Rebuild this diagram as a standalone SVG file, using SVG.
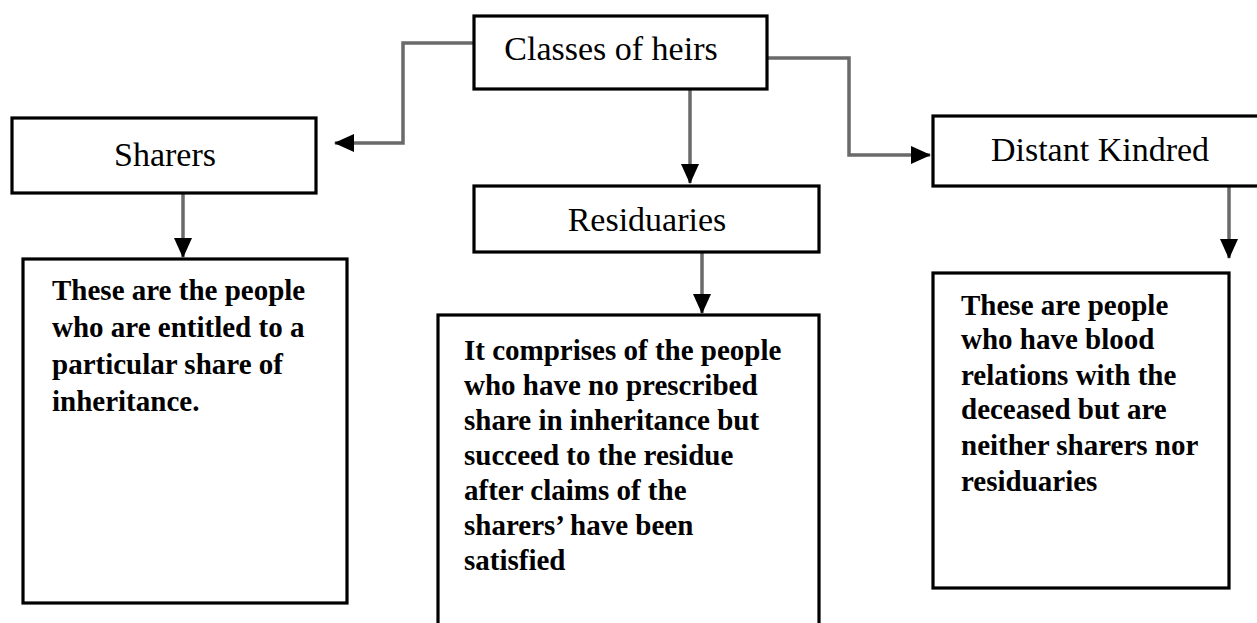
<svg xmlns="http://www.w3.org/2000/svg" width="1257" height="623" viewBox="0 0 1257 623">
<style>
.box{fill:#fff;stroke:#000;stroke-width:3.2}
.title{font-family:"Liberation Serif","Times New Roman",serif;font-size:34px;fill:#000;text-anchor:middle}
.desc{font-family:"Liberation Serif","Times New Roman",serif;font-size:29px;font-weight:bold;fill:#000}
.conn{fill:none;stroke:#6a6a6a;stroke-width:3.5}
</style>
<defs>
<marker id="ah" markerUnits="userSpaceOnUse" markerWidth="20" markerHeight="18" refX="19" refY="9" orient="auto">
<path d="M0,0 L20,9 L0,18 Z" fill="#000"/>
</marker>
</defs>
<rect x="0" y="0" width="1257" height="623" fill="#fff"/>
<g id="connectors">
<path class="conn" d="M474,43 H403 V143 H335" marker-end="url(#ah)"/>
<path class="conn" d="M690,89 V183" marker-end="url(#ah)"/>
<path class="conn" d="M767,58 H849 V155 H930" marker-end="url(#ah)"/>
<path class="conn" d="M183,193 V257" marker-end="url(#ah)"/>
<path class="conn" d="M702,252 V313" marker-end="url(#ah)"/>
<path class="conn" d="M1229,186 V258" marker-end="url(#ah)"/>
</g>
<g id="classes">
<rect class="box" x="474" y="16" width="293" height="73"/>
<text class="title" x="611" y="60">Classes of heirs</text>
</g>
<g id="sharers">
<rect class="box" x="12" y="118" width="304" height="75"/>
<text class="title" x="165" y="166">Sharers</text>
</g>
<g id="sharers-desc">
<rect class="box" x="23" y="259" width="324" height="344"/>
<text class="desc" x="52" y="300">These are the people</text>
<text class="desc" x="52" y="337">who are entitled to a</text>
<text class="desc" x="52" y="374">particular share of</text>
<text class="desc" x="52" y="411">inheritance.</text>
</g>
<g id="residuaries">
<rect class="box" x="474" y="186" width="345" height="66"/>
<text class="title" x="647" y="231">Residuaries</text>
</g>
<g id="residuaries-desc">
<rect class="box" x="438" y="315" width="381" height="330"/>
<text class="desc" x="464" y="360">It comprises of the people</text>
<text class="desc" x="464" y="395">who have no prescribed</text>
<text class="desc" x="464" y="430">share in inheritance but</text>
<text class="desc" x="464" y="465">succeed to the residue</text>
<text class="desc" x="464" y="500">after claims of the</text>
<text class="desc" x="464" y="535">sharers’ have been</text>
<text class="desc" x="464" y="570">satisfied</text>
</g>
<g id="distant">
<rect class="box" x="933" y="116" width="340" height="70"/>
<text class="title" x="1100" y="161">Distant Kindred</text>
</g>
<g id="distant-desc">
<rect class="box" x="933" y="273" width="296" height="315"/>
<text class="desc" x="961" y="315">These are people</text>
<text class="desc" x="961" y="349">who have blood</text>
<text class="desc" x="961" y="385">relations with the</text>
<text class="desc" x="961" y="419">deceased but are</text>
<text class="desc" x="961" y="455">neither sharers nor</text>
<text class="desc" x="961" y="491">residuaries</text>
</g>
</svg>
